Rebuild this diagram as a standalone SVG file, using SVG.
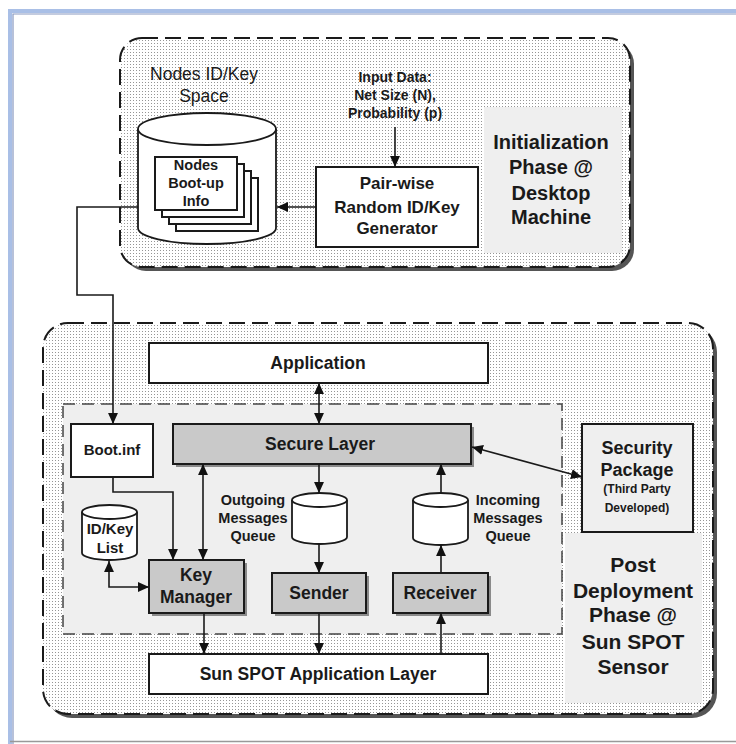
<svg xmlns="http://www.w3.org/2000/svg" width="736" height="744" viewBox="0 0 736 744">
<defs>
<pattern id="dots" width="3" height="3" patternUnits="userSpaceOnUse">
<rect width="3" height="3" fill="#ffffff"/>
<rect x="1" y="1" width="1" height="1" fill="#959595"/>
</pattern>
<marker id="ah" viewBox="0 0 10 10" refX="10" refY="5" markerWidth="11" markerHeight="11" markerUnits="userSpaceOnUse" orient="auto-start-reverse">
<path d="M0,0.5 L10,5 L0,9.5 z" fill="#111"/>
</marker>
<style>
.t{font-family:"Liberation Sans",Arial,sans-serif;font-weight:bold;fill:#1a1a1a;text-anchor:middle}
.n{font-family:"Liberation Sans",Arial,sans-serif;font-weight:normal;fill:#1a1a1a;text-anchor:middle}
.box{fill:#ffffff;stroke:#1a1a1a;stroke-width:2}
.gbox{fill:#c9c9c9;stroke:#1a1a1a;stroke-width:2}
.sh{fill:#8a8a8a}
.cont{fill:url(#dots);stroke:#1a1a1a;stroke-width:2;stroke-dasharray:16 7}
.csh{fill:#555}
.cyl{fill:#ffffff;stroke:#1a1a1a;stroke-width:1.8}
.ln{fill:none;stroke:#1a1a1a;stroke-width:1.6}
.arr{fill:none;stroke:#1a1a1a;stroke-width:1.6;marker-end:url(#ah)}
.darr{fill:none;stroke:#1a1a1a;stroke-width:1.6;marker-end:url(#ah);marker-start:url(#ah)}
</style>
</defs>
<rect width="736" height="744" fill="#ffffff"/>
<!-- outer frame -->
<path d="M10,744 V11 H736" fill="none" stroke="#a9bfe6" stroke-width="4"/>
<path d="M13,744 V14 H736" fill="none" stroke="#8898c0" stroke-width="1.2"/>
<line x1="10" y1="741.5" x2="736" y2="741.5" stroke="#999" stroke-width="1.5"/>

<!-- top container -->
<g id="init-phase">
<rect x="124" y="42" width="510" height="229" rx="22" class="csh"/>
<rect x="120" y="38" width="510" height="229" rx="22" class="cont"/>
<rect x="484" y="107" width="138" height="146" fill="#efefef"/>
<text class="t" font-size="20" x="551" y="149">Initialization</text>
<text class="t" font-size="20" x="551" y="174">Phase @</text>
<text class="t" font-size="20" x="551" y="200">Desktop</text>
<text class="t" font-size="20" x="551" y="224">Machine</text>
</g>

<!-- bottom container -->
<g id="post-phase">
<rect x="47" y="327" width="670" height="391" rx="25" class="csh"/>
<rect x="43" y="323" width="670" height="391" rx="25" class="cont"/>
<rect x="63" y="404" width="499" height="230" fill="#efefef" stroke="#444" stroke-width="1.5" stroke-dasharray="12 7"/>
<rect x="565" y="533" width="137" height="170" fill="#efefef"/>
<text class="t" font-size="21" x="633" y="572">Post</text>
<text class="t" font-size="21" x="633" y="598">Deployment</text>
<text class="t" font-size="21" x="633" y="622">Phase @</text>
<text class="t" font-size="21" x="633" y="649">Sun SPOT</text>
<text class="t" font-size="21" x="633" y="674">Sensor</text>
</g>

<g id="key-space">
<text class="n" font-size="17.5" x="204" y="80">Nodes ID/Key</text>
<text class="n" font-size="17.5" x="204" y="102">Space</text>
<path class="cyl" d="M138,129 V228 A69,16 0 0 0 276,228 V129"/>
<ellipse class="cyl" cx="207" cy="129" rx="69" ry="16"/>
<rect x="176" y="178" width="82" height="53" class="box" stroke-width="1.5"/>
<rect x="169" y="171" width="82" height="53" class="box" stroke-width="1.5"/>
<rect x="162" y="164" width="82" height="53" class="box" stroke-width="1.5"/>
<rect x="155" y="157" width="82" height="53" class="box" stroke-width="1.5"/>
<text class="t" font-size="14.5" x="196" y="170">Nodes</text>
<text class="t" font-size="14.5" x="196" y="188">Boot-up</text>
<text class="t" font-size="14.5" x="196" y="206">Info</text>
</g>

<g id="input-data">
<text class="t" font-size="14" x="395" y="82">Input Data:</text>
<text class="t" font-size="14" x="395" y="100">Net Size (N),</text>
<text class="t" font-size="14" x="395" y="118">Probability (p)</text>
</g>

<g id="generator">
<rect x="316" y="167" width="162" height="80" class="box"/>
<text class="t" font-size="17" x="397" y="189">Pair-wise</text>
<text class="t" font-size="17" x="397" y="213">Random ID/Key</text>
<text class="t" font-size="17" x="397" y="234">Generator</text>
</g>

<g id="application">
<rect x="149" y="343" width="339" height="40" class="box"/>
<text class="t" font-size="17.5" x="318" y="369">Application</text>
</g>

<g id="secure-layer">
<rect x="176" y="427" width="298" height="40" class="sh"/>
<rect x="173" y="424" width="298" height="40" class="gbox"/>
<text class="t" font-size="17.5" x="320" y="450">Secure Layer</text>
</g>

<g id="boot-inf">
<rect x="71" y="424" width="82" height="53" class="box"/>
<text class="t" font-size="15" x="112" y="455">Boot.inf</text>
</g>

<g id="security-package">
<rect x="582" y="424" width="111" height="108" fill="#efefef" stroke="#1a1a1a" stroke-width="2"/>
<text class="t" font-size="18" x="637" y="454">Security</text>
<text class="t" font-size="18" x="637" y="476">Package</text>
<text class="t" font-size="12" x="637" y="493">(Third Party</text>
<text class="t" font-size="12" x="637" y="512">Developed)</text>
</g>

<g id="outgoing-queue">
<path class="cyl" d="M292,500 V537 A27.5,7 0 0 0 347,537 V500"/>
<ellipse class="cyl" cx="319.5" cy="500" rx="27.5" ry="7"/>
<text class="t" font-size="14.5" x="253" y="505">Outgoing</text>
<text class="t" font-size="14.5" x="253" y="523">Messages</text>
<text class="t" font-size="14.5" x="253" y="541">Queue</text>
</g>

<g id="incoming-queue">
<path class="cyl" d="M413,500 V538 A27.5,7 0 0 0 468,538 V500"/>
<ellipse class="cyl" cx="440.5" cy="500" rx="27.5" ry="7"/>
<text class="t" font-size="14.5" x="508" y="505">Incoming</text>
<text class="t" font-size="14.5" x="508" y="523">Messages</text>
<text class="t" font-size="14.5" x="508" y="541">Queue</text>
</g>

<g id="idkey-list">
<path class="cyl" d="M82,512 V553 A27.5,7 0 0 0 137,553 V512"/>
<ellipse class="cyl" cx="109.5" cy="512" rx="27.5" ry="7"/>
<text class="t" font-size="15" x="110" y="534">ID/Key</text>
<text class="t" font-size="15" x="110" y="553">List</text>
</g>

<g id="key-manager">
<rect x="152" y="563" width="95" height="53" class="sh"/>
<rect x="149" y="560" width="95" height="53" class="gbox"/>
<text class="t" font-size="17.5" x="196" y="581">Key</text>
<text class="t" font-size="17.5" x="196" y="603">Manager</text>
</g>

<g id="sender">
<rect x="275" y="576" width="94" height="40" class="sh"/>
<rect x="272" y="573" width="94" height="40" class="gbox"/>
<text class="t" font-size="17.5" x="319" y="599">Sender</text>
</g>

<g id="receiver">
<rect x="396" y="576" width="95" height="40" class="sh"/>
<rect x="393" y="573" width="95" height="40" class="gbox"/>
<text class="t" font-size="17.5" x="440" y="599">Receiver</text>
</g>

<g id="sunspot-layer">
<rect x="149" y="654" width="339" height="40" class="box"/>
<text class="t" font-size="17.5" x="318" y="680">Sun SPOT Application Layer</text>
</g>

<g id="connectors">
<path class="arr" d="M395,127 V167"/>
<path class="arr" d="M316,207 H277"/>
<path class="arr" d="M138,207 H77 V295 H113 V424"/>
<path class="arr" d="M113,477 V492 H173 V560"/>
<path class="darr" d="M203,464 V560"/>
<path class="darr" d="M109,561 V587 H149"/>
<path class="darr" d="M319,383 V424"/>
<path class="arr" d="M319,464 V493"/>
<path class="arr" d="M319,544 V573"/>
<path class="arr" d="M441,493 V464"/>
<path class="arr" d="M441,573 V545"/>
<path class="arr" d="M204,613 V654"/>
<path class="arr" d="M319,613 V654"/>
<path class="arr" d="M441,654 V613"/>
<path class="darr" d="M472,447 L582,477"/>
</g>
</svg>
